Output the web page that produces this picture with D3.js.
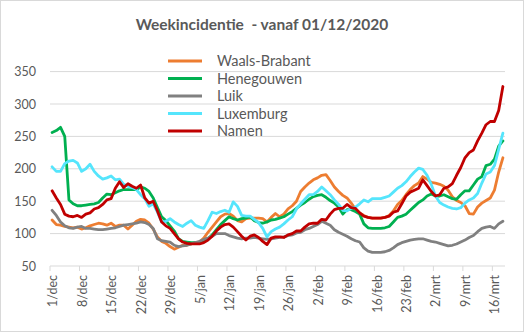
<!DOCTYPE html>
<html><head><meta charset="utf-8">
<script src="https://cdn.jsdelivr.net/npm/d3@7"></script>
<style>
html,body{margin:0;padding:0;background:#fff;}
svg{display:block;font-family:Lato,"Open Sans",sans-serif;}
</style></head><body>
<svg id="chart" width="524" height="332"></svg>
<script>
const startDate = new Date(2020, 11, 1);
const dayCount = 108;
const categories = d3.timeDay.range(startDate, d3.timeDay.offset(startDate, dayCount));
const tickLabels = ["1/dec","8/dec","15/dec","22/dec","29/dec","5/jan","12/jan","19/jan","26/jan","2/feb","9/feb","16/feb","23/feb","2/mrt","9/mrt","16/mrt"];
const yTicks = [50,100,150,200,250,300,350];
const seriesNames = ["Waals-Brabant","Henegouwen","Luik","Luxemburg","Namen"];
const seriesColors = ["#ED7D31","#00B050","#808080","#55E5FC","#C00000"];

const waalsBrabant = [121,114,113,111,110,109,110,107,109,112,
114,116,115,113,116,111,113,113,107,113,
119,122,121,116,107,95,88,85,80,76,
79,82,82,84,86,87,93,102,110,118,
126,130,131,127,120,118,123,124,124,124,
123,118,125,131,126,130,138,143,150,165,
172,178,183,186,190,191,182,172,165,159,
155,147,138,132,128,125,124,124,124,125,
128,135,145,151,160,168,174,178,188,184,
179,178,176,173,167,157,151,148,143,131,
130,141,147,151,155,167,195,217];

const henegouwen = [256,259,264,250,152,146,143,143,144,145,
146,148,155,161,160,163,166,168,168,168,
168,172,170,165,155,140,126,120,112,104,
92,88,87,86,86,87,88,92,98,106,
114,120,126,123,121,123,124,126,120,117,
116,118,121,122,124,126,130,134,139,144,
148,153,157,159,160,156,151,147,141,130,
137,137,134,130,115,109,108,108,108,109,
111,118,125,127,130,136,142,148,152,158,
161,158,158,160,157,154,153,160,166,166,
175,184,188,205,207,215,235,243];

const luik = [136,128,118,112,109,108,110,111,108,108,
107,106,106,107,108,109,111,113,114,115,
116,118,117,114,108,92,89,88,87,82,
80,81,82,84,86,88,91,93,96,100,
100,100,97,95,93,92,93,93,94,93,
92,91,92,93,94,95,97,98,101,102,
106,108,111,114,119,116,113,106,102,99,
96,92,89,87,78,73,71,71,71,72,
74,78,83,86,88,90,91,92,92,90,
88,87,85,83,81,82,84,87,90,94,
97,103,108,110,111,108,115,119];

const luxemburg = [203,196,196,208,212,213,209,196,200,207,
196,189,184,186,189,183,184,176,173,171,
168,160,154,142,146,133,118,119,123,118,
114,111,116,120,113,110,108,120,133,131,
134,136,133,149,142,128,127,127,122,117,
108,95,103,107,110,115,121,126,138,146,
153,160,160,165,172,166,160,152,145,136,
135,139,141,146,152,149,154,154,154,156,
158,164,170,174,180,188,195,201,199,190,
176,158,148,144,141,139,138,140,147,152,
155,162,178,192,195,205,230,255];

const namen = [166,155,145,130,127,126,128,125,130,132,
138,140,145,152,154,170,180,171,177,173,
170,175,155,147,150,135,118,112,108,100,
92,87,85,84,84,84,86,90,96,104,
110,114,115,110,103,96,90,96,98,94,
88,83,93,95,95,94,98,100,104,104,
110,115,116,116,122,121,130,137,139,139,
145,140,139,132,127,125,124,124,124,125,
127,133,135,146,158,164,167,170,183,174,
165,158,160,170,172,177,190,202,217,225,
229,243,255,268,273,273,290,327];

const seriesValues = [waalsBrabant, henegouwen, luik, luxemburg, namen];

const svg = d3.select("#chart");
const W = 524, H = 332;
const plot = {left: 50, right: 505, top: 71.6, bottom: 266};
const textColor = "#595959";

svg.append("rect").attr("x",0.5).attr("y",0.5).attr("width",W-1).attr("height",H-1)
  .attr("fill","#fff").attr("stroke","#d9d9d9");

const x = d3.scaleBand().domain(d3.range(dayCount)).range([plot.left, plot.right]).padding(0);
const y = d3.scaleLinear().domain([50,350]).range([plot.bottom, plot.top]);
const cx = i => x(i) + x.bandwidth()/2;

// gridlines
svg.append("g").selectAll("line").data(yTicks.filter(t => t > 50)).join("line")
  .attr("x1", plot.left).attr("x2", plot.right)
  .attr("y1", d => y(d)).attr("y2", d => y(d))
  .attr("stroke","#d9d9d9").attr("stroke-width",1);

// y axis labels
const yAxis = d3.axisLeft(y).tickValues(yTicks).tickSize(0).tickPadding(14);
const gy = svg.append("g").attr("transform",`translate(${plot.left},0)`).call(yAxis);
gy.select(".domain").remove();
gy.selectAll("text").attr("fill",textColor).style("font-size","12.5px").style("font-family","Lato,sans-serif");

// x axis
const tickIdx = tickLabels.map((_, k) => k*7);
svg.append("line").attr("x1",plot.left).attr("x2",plot.right)
  .attr("y1",plot.bottom).attr("y2",plot.bottom).attr("stroke","#d9d9d9");
svg.append("g").selectAll("line").data(tickIdx).join("line")
  .attr("x1", d => x(d)).attr("x2", d => x(d))
  .attr("y1", plot.bottom).attr("y2", plot.bottom+5)
  .attr("stroke","#d9d9d9");
svg.append("g").selectAll("text").data(tickIdx).join("text")
  .attr("transform", (d) => `translate(${cx(d)+0.5},${plot.bottom+9}) rotate(-90)`)
  .attr("text-anchor","end").attr("dy","0.36em")
  .attr("fill",textColor).style("font-size","12.5px")
  .text((d,k) => tickLabels[k]);

// lines
const line = d3.line().x((d,i) => cx(i)).y(d => y(d));
svg.append("g").selectAll("path").data(seriesValues).join("path")
  .attr("d", d => line(d))
  .attr("fill","none")
  .attr("stroke", (d,i) => seriesColors[i])
  .attr("stroke-width", 2.8)
  .attr("stroke-linejoin","round").attr("stroke-linecap","round");

// title
svg.append("text").attr("x", W/2).attr("y", 30).attr("text-anchor","middle")
  .attr("fill",textColor).style("font-size","15.5px").style("font-weight","bold")
  .style("white-space","pre").attr("xml:space","preserve")
  .text("Weekincidentie  - vanaf 01/12/2020");

// legend
const lg = svg.append("g");
seriesNames.forEach((name, i) => {
  const ly = 61 + i*17.5;
  lg.append("line").attr("x1",168).attr("x2",202).attr("y1",ly).attr("y2",ly)
    .attr("stroke",seriesColors[i]).attr("stroke-width",2.8);
  lg.append("text").attr("x",217).attr("y",ly).attr("dy","0.36em")
    .attr("fill",textColor).style("font-size","14.5px").text(name);
});
</script>
</body></html>
